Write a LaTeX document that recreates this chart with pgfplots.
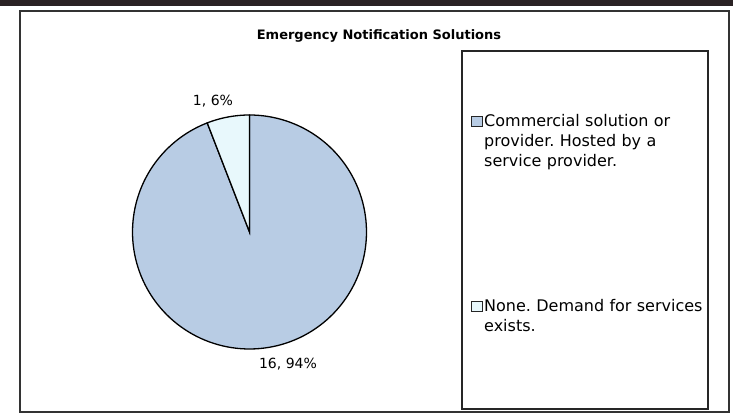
\documentclass[border=0pt]{standalone}
\usepackage{pgfplots}
\pgfplotsset{compat=1.18}
\usepackage{pgfplotstable}
\usepackage{fontspec}
\setmainfont{DejaVu Sans}
\frenchspacing
\definecolor{pieblue}{HTML}{B8CCE4}
\definecolor{piecyan}{HTML}{E8F8FC}
\definecolor{scan}{HTML}{2A2224}
\pgfplotstableread{
label count
Commercial 16
None 1
}\pietable
\pgfplotstablegetelem{0}{count}\of\pietable \let\vA\pgfplotsretval
\pgfplotstablegetelem{1}{count}\of\pietable \let\vB\pgfplotsretval
\pgfmathsetmacro{\angB}{90+360*\vB/(\vA+\vB)}
\begin{document}
\begin{tikzpicture}
\path[use as bounding box] (0,0) rectangle (733bp,413bp);
\begin{axis}[
  at={(0,0)}, anchor=south west,
  scale only axis, width=733bp, height=413bp,
  xmin=0, xmax=733, ymin=0, ymax=413,
  axis lines=none, clip=false,
]
% scan band and frames
\draw[scan, line width=6bp] (axis cs:0,410) -- (axis cs:733,410);
\draw[black!80, line width=1.2bp] (axis cs:20,1) rectangle (axis cs:729,402);
\draw[black!85, line width=1.2bp] (axis cs:462,4) rectangle (axis cs:708,362);
% pie slices
\addplot[draw=black, line width=1.3bp, fill=pieblue, domain=\angB:450, samples=150, variable=\t]
  ({249.5+117*cos(\t)}, {181+117*sin(\t)}) -- (axis cs:249.5,181) -- cycle;
\addplot[draw=black, line width=1.3bp, fill=piecyan, domain=90:\angB, samples=20, variable=\t]
  ({249.5+117*cos(\t)}, {181+117*sin(\t)}) -- (axis cs:249.5,181) -- cycle;
% title and labels
\node[font=\bfseries\fontsize{13bp}{15bp}\selectfont] at (axis cs:379,377) {Emergency Notification Solutions};
\node[font=\fontsize{14bp}{16bp}\selectfont] at (axis cs:213,312) {1, 6\%};
\node[font=\fontsize{14bp}{16bp}\selectfont] at (axis cs:288,49) {16, 94\%};
% legend
\draw[black!85, line width=1bp, fill=pieblue] (axis cs:471,286) rectangle (axis cs:482,296);
\draw[black!85, line width=1bp, fill=piecyan] (axis cs:471,101) rectangle (axis cs:482,111);
\node[anchor=base west, inner sep=0pt, text width=225bp, align=left, font=\fontsize{16bp}{20bp}\selectfont] at (axis cs:484,286)
  {Commercial solution or\\ provider. Hosted by a\\ service provider.};
\node[anchor=base west, inner sep=0pt, text width=225bp, align=left, font=\fontsize{16bp}{20bp}\selectfont] at (axis cs:484,101)
  {None. Demand for services\\ exists.};
\end{axis}
\end{tikzpicture}
\end{document}
